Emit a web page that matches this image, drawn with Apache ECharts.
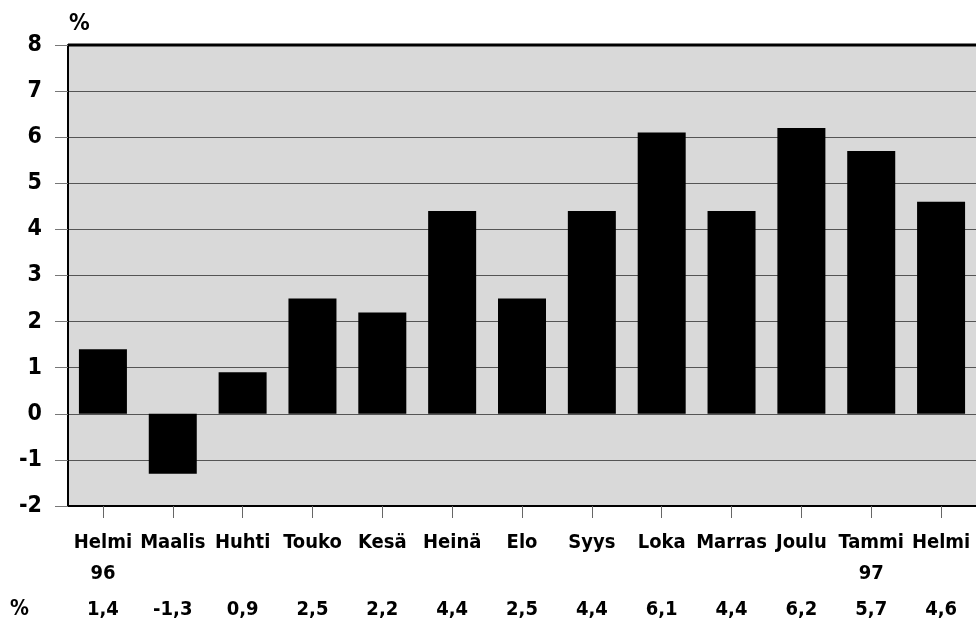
<!DOCTYPE html>
<html>
<head>
<meta charset="utf-8">
<script src="https://cdn.jsdelivr.net/npm/echarts@6/dist/echarts.min.js"></script>
<style>
html,body{margin:0;padding:0;background:#fff;}
#chart{width:976px;height:620px;}
</style>
</head>
<body>
<div id="chart"></div>
<script>
const categories = ['Helmi','Maalis','Huhti','Touko','Kesä','Heinä','Elo','Syys','Loka','Marras','Joulu','Tammi','Helmi'];
const years = ['96','','','','','','','','','','','97',''];
const values = [1.4,-1.3,0.9,2.5,2.2,4.4,2.5,4.4,6.1,4.4,6.2,5.7,4.6];
const yTicks = {min:-2, max:8, interval:1};

const FONT = '"DejaVu Sans Condensed","DejaVu Sans","Liberation Sans",sans-serif';
const valueLabels = values.map(v => v.toFixed(1).replace('.', ','));

const chart = echarts.init(document.getElementById('chart'), null, {renderer:'canvas'});
chart.setOption({
  animation:false,
  backgroundColor:'#ffffff',
  grid:{left:68, right:-2, top:45, bottom:113, show:true, backgroundColor:'#d9d9d9', borderWidth:0},
  graphic:[
    {type:'text', left:69, top:13, style:{text:'%', font:'bold 23px '+FONT, fill:'#000'}},
    {type:'text', left:10, top:599, style:{text:'%', font:'bold 21px '+FONT, fill:'#000'}},
    {type:'line', shape:{x1:68, y1:45, x2:976, y2:45}, style:{stroke:'#000', lineWidth:3}, z:10}
  ],
  xAxis:[{
    type:'category',
    data:categories,
    position:'bottom',
    axisLine:{show:true, onZero:false, lineStyle:{color:'#000', width:2}},
    axisTick:{show:true, alignWithLabel:true, length:12, lineStyle:{color:'#666', width:1}},
    axisLabel:{
      interval:0, margin:21,
      formatter:function(v, i){ return '{n|'+categories[i]+'}\n{y|'+(years[i]||' ')+'}'; },
      rich:{
        n:{fontFamily:FONT, fontWeight:'bold', fontSize:20, color:'#000', lineHeight:31},
        y:{fontFamily:FONT, fontWeight:'bold', fontSize:20, color:'#000', lineHeight:31}
      }
    },
    splitLine:{show:false}
  },{
    type:'category',
    data:valueLabels,
    position:'bottom',
    axisLine:{show:false},
    axisTick:{show:false},
    axisLabel:{interval:0, margin:94, fontFamily:FONT, fontWeight:'bold', fontSize:20, color:'#000'},
    splitLine:{show:false}
  }],
  yAxis:{
    type:'value',
    min:yTicks.min, max:yTicks.max, interval:yTicks.interval,
    axisLine:{show:true, lineStyle:{color:'#000', width:2}},
    axisTick:{show:true, length:13, lineStyle:{color:'#777', width:1}},
    axisLabel:{margin:26, fontFamily:FONT, fontWeight:'bold', fontSize:23, color:'#000'},
    splitLine:{show:true, lineStyle:{color:'#555', width:1}}
  },
  series:[{
    type:'bar',
    xAxisIndex:0,
    data:values,
    barWidth:48,
    itemStyle:{color:'#000'}
  }]
});
</script>
</body>
</html>
